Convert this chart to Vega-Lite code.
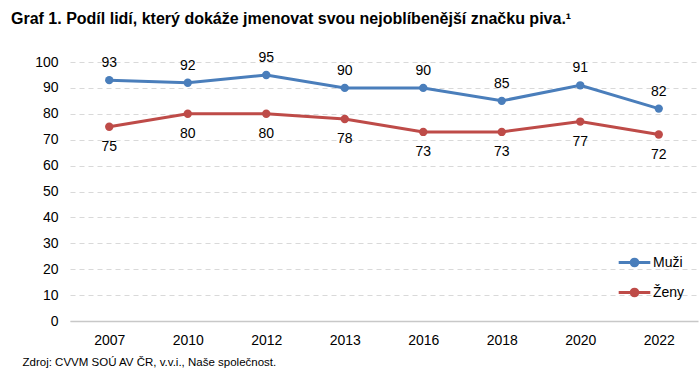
{
  "$schema": "https://vega.github.io/schema/vega-lite/v6.json",
  "width": 628,
  "height": 259,
  "autosize": {"type": "none"},
  "padding": {"left": 70, "top": 62, "right": 2, "bottom": 51},
  "background": "white",
  "title": {
    "text": "Graf 1. Podíl lidí, který dokáže jmenovat svou nejoblíbenější značku piva.¹",
    "anchor": "start",
    "dx": -11,
    "offset": 24,
    "font": "Liberation Sans",
    "fontSize": 16,
    "fontWeight": "bold",
    "color": "#000000"
  },
  "config": {
    "view": {"stroke": null},
    "font": "Liberation Sans"
  },
  "data": {
    "values": [
      {"rok": "2007", "pohlavi": "Muži", "podil": 93},
      {"rok": "2010", "pohlavi": "Muži", "podil": 92},
      {"rok": "2012", "pohlavi": "Muži", "podil": 95},
      {"rok": "2013", "pohlavi": "Muži", "podil": 90},
      {"rok": "2016", "pohlavi": "Muži", "podil": 90},
      {"rok": "2018", "pohlavi": "Muži", "podil": 85},
      {"rok": "2020", "pohlavi": "Muži", "podil": 91},
      {"rok": "2022", "pohlavi": "Muži", "podil": 82},
      {"rok": "2007", "pohlavi": "Ženy", "podil": 75},
      {"rok": "2010", "pohlavi": "Ženy", "podil": 80},
      {"rok": "2012", "pohlavi": "Ženy", "podil": 80},
      {"rok": "2013", "pohlavi": "Ženy", "podil": 78},
      {"rok": "2016", "pohlavi": "Ženy", "podil": 73},
      {"rok": "2018", "pohlavi": "Ženy", "podil": 73},
      {"rok": "2020", "pohlavi": "Ženy", "podil": 77},
      {"rok": "2022", "pohlavi": "Ženy", "podil": 72}
    ]
  },
  "encoding": {
    "x": {
      "field": "rok",
      "type": "ordinal",
      "scale": {"paddingInner": 0, "paddingOuter": 0},
      "axis": {
        "labelAngle": 0,
        "labelFontSize": 14,
        "labelColor": "#000000",
        "labelPadding": 12,
        "ticks": false,
        "domain": true,
        "domainColor": "#c8c8c8",
        "domainWidth": 1.5,
        "grid": false,
        "title": "Zdroj: CVVM SOÚ AV ČR, v.v.i., Naše společnost.",
        "titleFontSize": 11.5,
        "titleFontWeight": "normal",
        "titleColor": "#000000",
        "titleAnchor": null,
        "titleAlign": "left",
        "titleBaseline": "middle",
        "titleX": -48,
        "titleY": 41
      }
    },
    "y": {
      "field": "podil",
      "type": "quantitative",
      "scale": {"domain": [0, 100], "nice": false},
      "axis": {
        "values": [0, 10, 20, 30, 40, 50, 60, 70, 80, 90, 100],
        "labelFontSize": 14,
        "labelColor": "#000000",
        "labelPadding": 12,
        "ticks": false,
        "domain": false,
        "grid": true,
        "gridColor": "#d9d9d9",
        "gridDash": [5, 4],
        "gridWidth": 1,
        "title": null
      }
    },
    "color": {
      "field": "pohlavi",
      "type": "nominal",
      "scale": {"domain": ["Muži", "Ženy"], "range": ["#4a7ebb", "#be4b48"]},
      "legend": {
        "title": null,
        "orient": "none",
        "legendX": 547,
        "legendY": 183,
        "padding": 0,
        "labelFontSize": 14,
        "labelColor": "#000000",
        "labelOffset": 1,
        "rowPadding": 3,
        "symbolType": "M-1,0H1M0.21,0A0.21,0.21 0 1 1 -0.21,0A0.21,0.21 0 1 1 0.21,0Z",
        "symbolSize": 1000,
        "symbolStrokeWidth": 3,
        "encode": {
          "symbols": {
            "update": {
              "stroke": {"scale": "color", "field": "value"},
              "fill": {"scale": "color", "field": "value"},
              "fillOpacity": {"value": 1},
              "strokeOpacity": {"value": 1}
            }
          }
        }
      }
    }
  },
  "layer": [
    {
      "mark": {"type": "line", "strokeWidth": 3}
    },
    {
      "mark": {"type": "point", "filled": true, "size": 70, "opacity": 1}
    },
    {
      "transform": [{"filter": "datum.pohlavi === 'Muži'"}],
      "mark": {"type": "text", "fontSize": 14, "color": "#000000", "dy": -17, "baseline": "middle"},
      "encoding": {
        "text": {"field": "podil", "type": "quantitative"},
        "color": {"value": "#000000"}
      }
    },
    {
      "transform": [{"filter": "datum.pohlavi === 'Ženy'"}],
      "mark": {"type": "text", "fontSize": 14, "color": "#000000", "dy": 20, "baseline": "middle"},
      "encoding": {
        "text": {"field": "podil", "type": "quantitative"},
        "color": {"value": "#000000"}
      }
    }
  ]
}
